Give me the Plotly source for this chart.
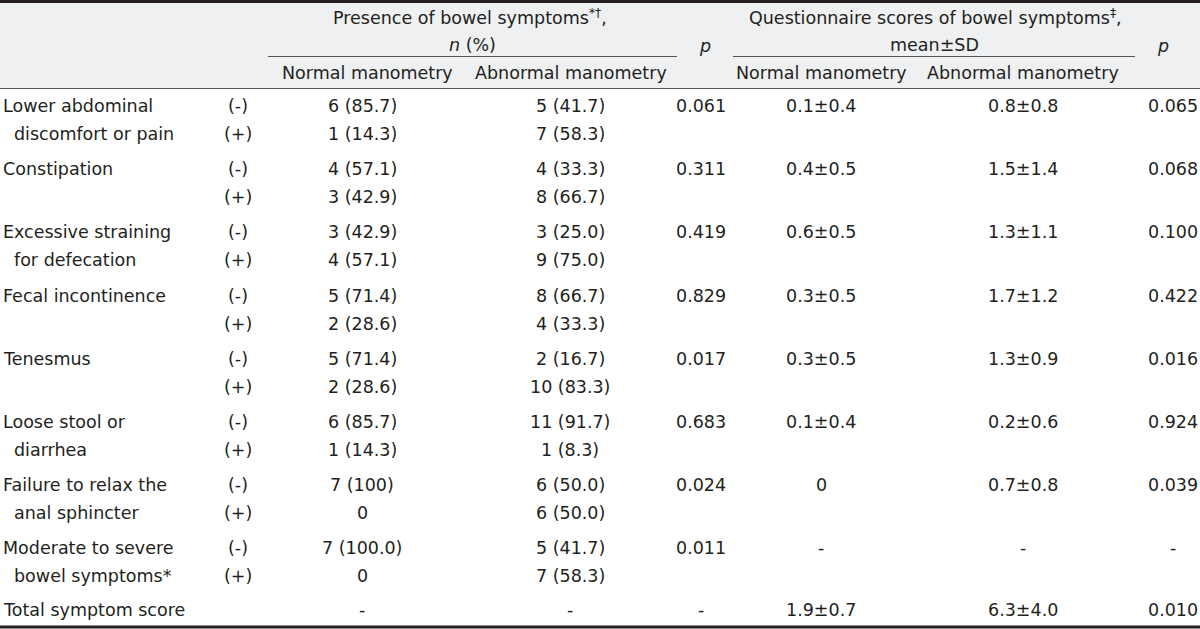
import plotly.graph_objects as go

# ---- data ----
symptom_line1 = ["Lower abdominal", "Constipation", "Excessive straining", "Fecal incontinence",
                 "Tenesmus", "Loose stool or", "Failure to relax the", "Moderate to severe"]
symptom_line2 = ["discomfort or pain", "", "for defecation", "", "", "diarrhea",
                 "anal sphincter", "bowel symptoms*"]
signs = ["(-)", "(+)"]
pres_normal_neg = ["6 (85.7)", "4 (57.1)", "3 (42.9)", "5 (71.4)", "5 (71.4)", "6 (85.7)", "7 (100)", "7 (100.0)"]
pres_normal_pos = ["1 (14.3)", "3 (42.9)", "4 (57.1)", "2 (28.6)", "2 (28.6)", "1 (14.3)", "0", "0"]
pres_abn_neg = ["5 (41.7)", "4 (33.3)", "3 (25.0)", "8 (66.7)", "2 (16.7)", "11 (91.7)", "6 (50.0)", "5 (41.7)"]
pres_abn_pos = ["7 (58.3)", "8 (66.7)", "9 (75.0)", "4 (33.3)", "10 (83.3)", "1 (8.3)", "6 (50.0)", "7 (58.3)"]
p_presence = ["0.061", "0.311", "0.419", "0.829", "0.017", "0.683", "0.024", "0.011"]
score_normal = ["0.1±0.4", "0.4±0.5", "0.6±0.5", "0.3±0.5", "0.3±0.5", "0.1±0.4", "0", "-"]
score_abn = ["0.8±0.8", "1.5±1.4", "1.3±1.1", "1.7±1.2", "1.3±0.9", "0.2±0.6", "0.7±0.8", "-"]
p_score = ["0.065", "0.068", "0.100", "0.422", "0.016", "0.924", "0.039", "-"]
total_label = "Total symptom score"
total_values = ["-", "-", "-", "1.9±0.7", "6.3±4.0", "0.010"]

# ---- layout constants ----
W, H = 1200, 629
TXT = "#231f20"
FONT = "DejaVu Sans"
FS = 17.5
col_x = {"sign": 238, "pn": 362, "pa": 570, "pp": 701, "sn": 821, "sa": 1023, "ps": 1173}
first_y = 106
group_dy = 63.2
pair_dy = 28
total_y = 610

fig = go.Figure()
fig.update_xaxes(range=[0, W], visible=False, fixedrange=True)
fig.update_yaxes(range=[H, 0], visible=False, fixedrange=True)

shapes = []
shapes.append(dict(type="rect", x0=0, x1=W, y0=3, y1=88, fillcolor="#eff0f1", line_width=0, layer="below"))
shapes.append(dict(type="line", x0=0, x1=W, y0=1.5, y1=1.5, line=dict(color=TXT, width=3)))
shapes.append(dict(type="line", x0=0, x1=W, y0=627, y1=627, line=dict(color=TXT, width=3)))
shapes.append(dict(type="line", x0=0, x1=W, y0=88.5, y1=88.5, line=dict(color="#555555", width=1)))
shapes.append(dict(type="line", x0=268, x1=677, y0=56.5, y1=56.5, line=dict(color="#555555", width=1)))
shapes.append(dict(type="line", x0=733, x1=1135, y0=56.5, y1=56.5, line=dict(color="#555555", width=1)))

ann = []


def t(x, y, s, xanchor="center"):
    ann.append(dict(x=x, y=y, text=s, showarrow=False, xanchor=xanchor, yanchor="middle",
                    font=dict(family=FONT, size=FS, color=TXT), xref="x", yref="y"))


t(470, 17, "Presence of bowel symptoms<sup>*†</sup>,")
t(472, 45, "<i>n</i> (%)")
t(705, 46, "<i>p</i>")
t(935, 17, "Questionnaire scores of bowel symptoms<sup>‡</sup>,")
t(934, 45, "mean±SD")
t(1163, 46, "<i>p</i>")
t(367, 73, "Normal manometry")
t(571, 73, "Abnormal manometry")
t(821, 73, "Normal manometry")
t(1023, 73, "Abnormal manometry")

for i in range(len(symptom_line1)):
    y1 = first_y + group_dy * i
    y2 = y1 + pair_dy
    t(1, y1, symptom_line1[i], "left")
    if symptom_line2[i]:
        t(12, y2, symptom_line2[i], "left")
    t(col_x["sign"], y1, signs[0])
    t(col_x["sign"], y2, signs[1])
    t(col_x["pn"], y1, pres_normal_neg[i])
    t(col_x["pn"], y2, pres_normal_pos[i])
    t(col_x["pa"], y1, pres_abn_neg[i])
    t(col_x["pa"], y2, pres_abn_pos[i])
    t(col_x["pp"], y1, p_presence[i])
    t(col_x["sn"], y1, score_normal[i])
    t(col_x["sa"], y1, score_abn[i])
    t(col_x["ps"], y1, p_score[i])

t(1, total_y, total_label, "left")
for key, v in zip(["pn", "pa", "pp", "sn", "sa", "ps"], total_values):
    t(col_x[key], total_y, v)

fig.update_layout(width=W, height=H, margin=dict(l=0, r=0, t=0, b=0),
                  plot_bgcolor="white", paper_bgcolor="white",
                  shapes=shapes, annotations=ann, showlegend=False)
fig.write_html("out.html", config={"displayModeBar": False},
               post_script="document.body.style.margin='0';document.body.style.overflow='hidden';")
